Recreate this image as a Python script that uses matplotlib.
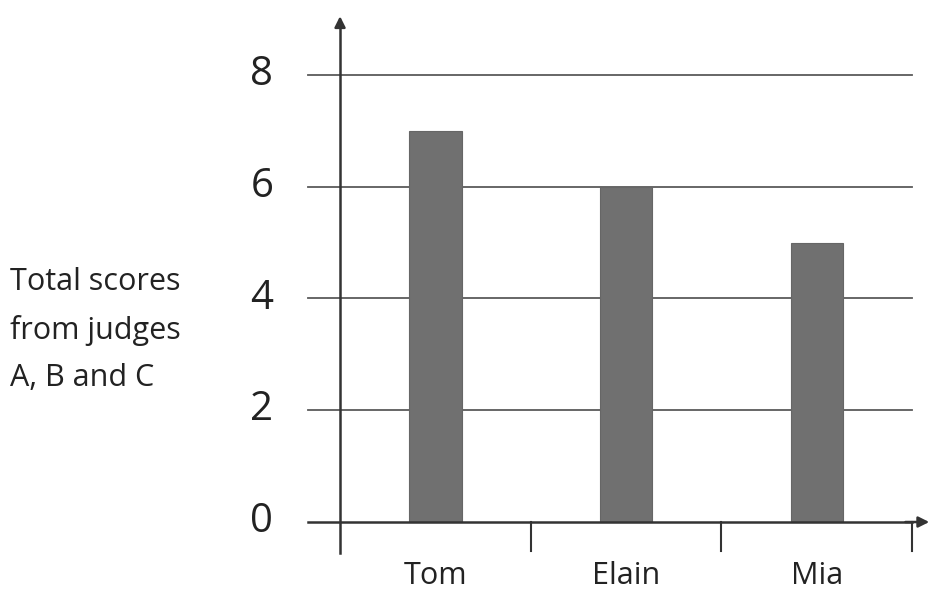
import matplotlib.pyplot as plt

# data
names = ['Tom', 'Elain', 'Mia']
scores = [7, 6, 5]
y_ticks = [0, 2, 4, 6, 8]
y_label = 'Total scores\nfrom judges\nA, B and C'

plt.rcParams['font.family'] = ['Open Sans', 'DejaVu Sans']

fig = plt.figure(figsize=(9.32, 5.93), dpi=100)
ax = fig.add_axes([0, 0, 1, 1])
ax.set_xlim(-1.783, 3.104)
ax.set_ylim(-1.27, 9.34)
ax.axis('off')

axis_col = '#333333'
grid_col = '#5a5a5a'
bar_col = '#707070'
text_col = '#222222'

# horizontal grid lines (0 is the x axis itself)
for v in y_ticks[1:]:
    ax.plot([-0.168, 3.0], [v, v], color=grid_col, lw=1.3, zorder=1)

# bars centred between the category ticks
pos = [i + 0.5 for i in range(len(names))]
ax.bar(pos, scores, width=0.275, color=bar_col, edgecolor='#666666', lw=0.8, zorder=2)

# x axis with arrow
ax.plot([-0.168, 3.0], [0, 0], color=axis_col, lw=1.8, zorder=3)
ax.annotate('', xy=(3.104, 0), xytext=(2.95, 0),
            arrowprops=dict(arrowstyle='-|>', color=axis_col, lw=1.8, mutation_scale=16))

# y axis with arrow
ax.plot([0, 0], [-0.55, 8.9], color=axis_col, lw=1.8, zorder=3)
ax.annotate('', xy=(0, 9.1), xytext=(0, 8.8),
            arrowprops=dict(arrowstyle='-|>', color=axis_col, lw=1.8, mutation_scale=16))

# category boundary ticks below the axis
for i in range(1, len(names) + 1):
    ax.plot([i, i], [0, -0.52], color=axis_col, lw=1.5, zorder=3)

# y tick labels
for v in y_ticks:
    ax.text(-0.41, v, str(v), ha='center', va='center', fontsize=29, color=text_col)

# category labels
for p, n in zip(pos, names):
    ax.text(p, -0.97, n, ha='center', va='center', fontsize=22, color=text_col)

# y axis title
ax.text(-1.73, 3.43, y_label, ha='left', va='center', fontsize=22,
        color=text_col, linespacing=1.75)

fig.savefig('out.png', dpi=100)
